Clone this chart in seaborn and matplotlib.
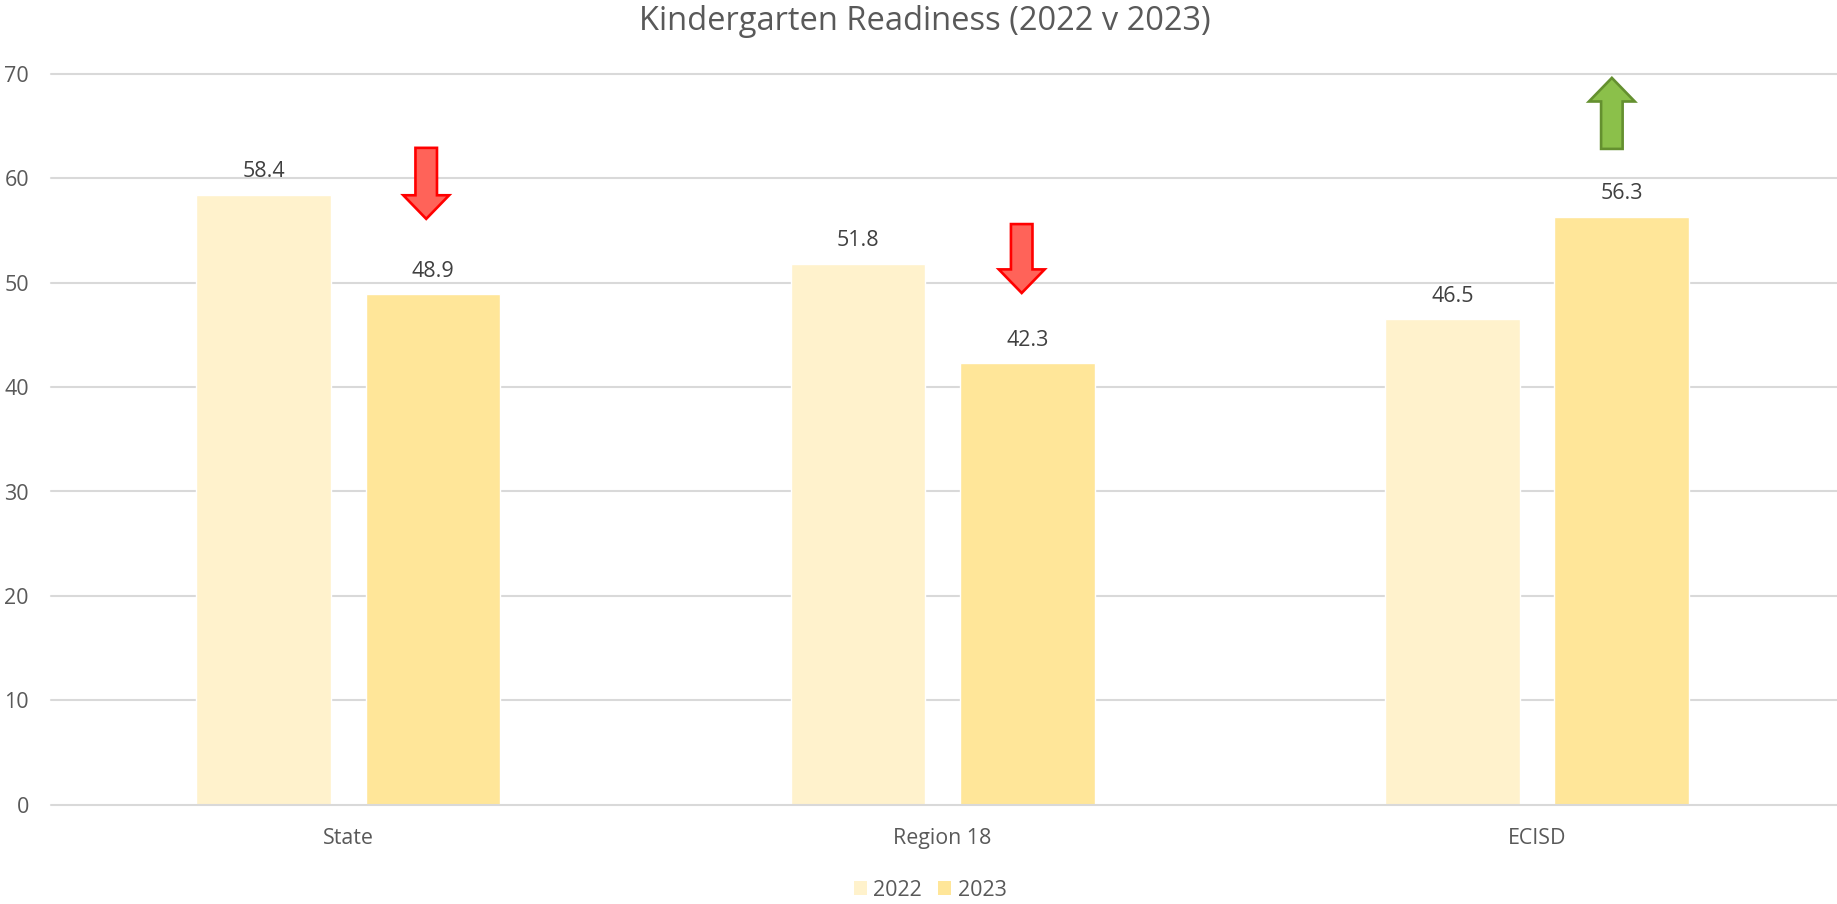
import matplotlib
matplotlib.use("Agg")
import matplotlib.pyplot as plt
import pandas as pd
import seaborn as sns
from matplotlib.patches import FancyArrowPatch, Patch

categories = ["State", "Region 18", "ECISD"]
values_2022 = [58.4, 51.8, 46.5]
values_2023 = [48.9, 42.3, 56.3]
years = ["2022", "2023"]
bar_colors = ["#FFF2CC", "#FFE699"]
yticks = [0, 10, 20, 30, 40, 50, 60, 70]

# change arrows: x (category units), start value, tip value
arrow_x = [0.131, 1.133, 2.126]
arrow_start = [62.9, 55.6, 62.8]
arrow_tip = [56.1, 49.0, 69.6]
arrow_face = ["#FF6359", "#FF6359", "#8BC04A"]
arrow_edge = ["#FF0000", "#FF0000", "#64902F"]

TEXT = "#595959"
LABEL = "#404040"
GRID = "#D9D9D9"

sns.set_theme(style="white")
plt.rcParams["font.family"] = ["Open Sans", "DejaVu Sans"]

df = pd.DataFrame({
    "category": categories * 2,
    "year": [years[0]] * 3 + [years[1]] * 3,
    "value": values_2022 + values_2023,
})

W, H = 1837, 904
fig = plt.figure(figsize=(W / 100 + 0.001, H / 100 + 0.001), dpi=100)
ax = fig.add_axes([51.2 / W, 1 - 804.7 / H, (W - 51.2) / W, (804.7 - 73.8) / H])

sns.barplot(data=df, x="category", y="value", hue="year", order=categories,
            hue_order=years, palette=bar_colors, width=0.57, gap=0.205,
            saturation=1, legend=False, ax=ax, zorder=3)

ax.set_xlim(-0.5, 2.505)
ax.set_ylim(0, 70)
ax.set_yticks(yticks)
ax.set_xlabel("")
ax.set_ylabel("")
for s in ax.spines.values():
    s.set_visible(False)
ax.grid(False)
for t in yticks:
    ax.axhline(t, color=GRID, lw=1.5, zorder=1 if t else 4, clip_on=False)
ax.tick_params(axis="x", length=0, pad=16.5, labelsize=15.4, labelcolor=TEXT)
ax.tick_params(axis="y", length=0, pad=16, labelsize=15.5, labelcolor=TEXT)

for c in ax.containers:
    ax.bar_label(c, fmt="%.1f", padding=9, fontsize=15.5, color=LABEL)

for x, y0, y1, fc, ec in zip(arrow_x, arrow_start, arrow_tip, arrow_face, arrow_edge):
    ax.add_patch(FancyArrowPatch(
        (x, y0), (x, y1),
        arrowstyle="simple,head_length=17,head_width=33,tail_width=15.5",
        mutation_scale=1, shrinkA=0, shrinkB=0, facecolor=fc, edgecolor=ec,
        linewidth=1.9, joinstyle="miter", zorder=5, clip_on=False))

fig.text(925 / W, 1 - 21 / H, "Kindergarten Readiness (2022 v 2023)", ha="center",
         va="center", fontsize=23.5, color=TEXT)

handles = [Patch(facecolor=c, edgecolor="none", label=y) for c, y in zip(bar_colors, years)]
fig.legend(handles=handles, loc="center", bbox_to_anchor=(930 / W, 1 - 890 / H),
           ncol=2, frameon=False, fontsize=15.5, labelcolor=TEXT, handlelength=0.62,
           handleheight=0.62, handletextpad=0.29, columnspacing=0.74)

fig.savefig("out.png", dpi=100)
